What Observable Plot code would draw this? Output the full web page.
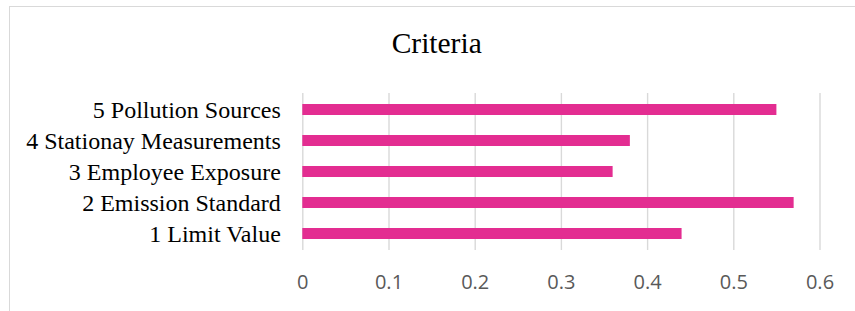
<!DOCTYPE html>
<html>
<head>
<meta charset="utf-8">
<script src="https://cdn.jsdelivr.net/npm/d3@7"></script>
<script src="https://cdn.jsdelivr.net/npm/@observablehq/plot@0.6"></script>
<style>
  html, body { margin: 0; padding: 0; background: #fff; overflow: hidden; width: 855px; height: 311px; }
  #frame { position: absolute; left: 8.5px; top: 5.5px; width: 900px; height: 400px; border: 1px solid #d9d9d9; box-sizing: border-box; }
  #title { position: absolute; left: 336.7px; top: 29px; width: 200px; text-align: center; font-family: "Liberation Serif", "Times New Roman", serif; font-size: 29.5px; line-height: 28px; color: #000; }
  #chart { position: absolute; left: 0; top: 90px; }
</style>
</head>
<body>
<div id="frame"></div>
<div id="title">Criteria</div>
<div id="chart"></div>
<script>
const categories = ["5 Pollution Sources", "4 Stationay Measurements", "3 Employee Exposure", "2 Emission Standard", "1 Limit Value"];
const values = [0.55, 0.38, 0.36, 0.57, 0.44];
const ticks = [0, 0.1, 0.2, 0.3, 0.4, 0.5, 0.6];

const data = categories.map((c, i) => ({category: c, value: values[i]}));

const chart = Plot.plot({
  width: 855,
  height: 221,
  marginLeft: 302.3,
  marginRight: 35.5,
  marginTop: 3,
  marginBottom: 61,
  style: {background: "transparent", overflow: "visible"},
  x: {domain: [0, 0.6], ticks: ticks},
  y: {domain: categories, paddingInner: 0.634, paddingOuter: 0.317, label: null},
  marks: [
    Plot.gridX(ticks, {stroke: "#d9d9d9", strokeOpacity: 1, strokeWidth: 1.4}),
    Plot.barX(data, {x: "value", y: "category", fill: "#E32D91"}),
    Plot.axisX({ticks: ticks, tickSize: 0, tickPadding: 24, label: null, tickFormat: d => String(d),
      fontFamily: "Open Sans, sans-serif", fontSize: 20, fill: "#595959"}),
    Plot.axisY({tickSize: 0, tickPadding: 22, label: null,
      fontFamily: "Liberation Serif, Times New Roman, serif", fontSize: 24, fill: "#000"})
  ]
});
document.getElementById("chart").appendChild(chart);
</script>
</body>
</html>
